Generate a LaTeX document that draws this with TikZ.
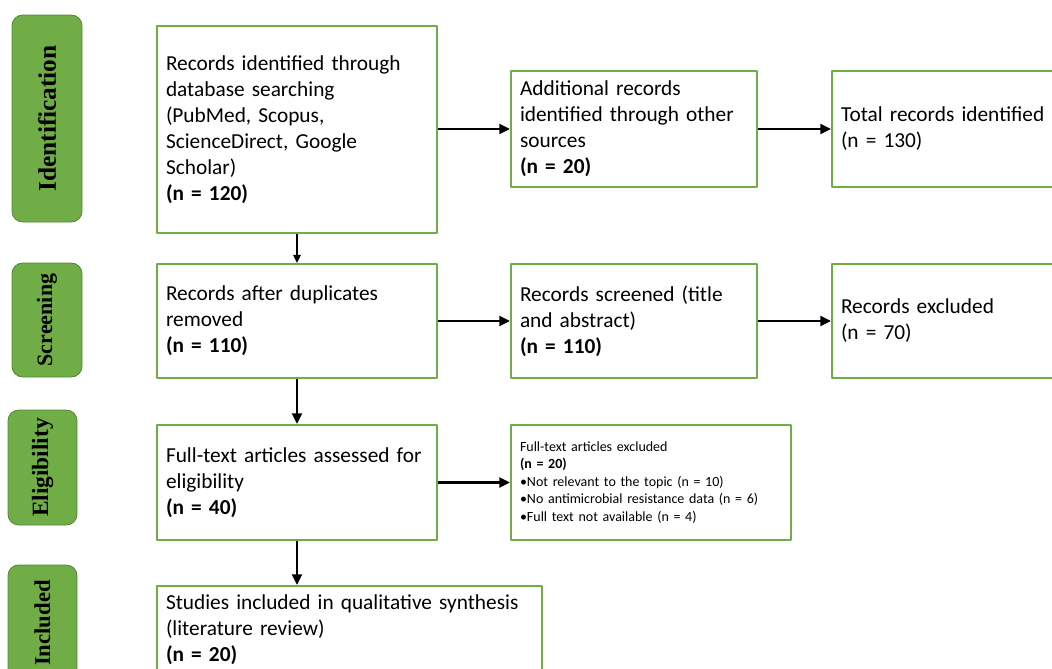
\documentclass[tikz,border=0pt]{standalone}
\usepackage{fontspec}
\setmainfont{Carlito}
\newfontfamily\phasefont{Liberation Serif}
\usetikzlibrary{arrows.meta}
\definecolor{boxgreen}{RGB}{112,173,71}
\definecolor{phasegreen}{RGB}{112,173,71}
\definecolor{phaseedge}{RGB}{84,135,52}

\begin{document}
\begin{tikzpicture}[x=0.75pt, y=-0.75pt, line join=round,
  box/.style={draw=boxgreen, line width=1.6pt, fill=white, rectangle, align=left,
    inner xsep=6.75pt, inner ysep=0pt, font=\fontsize{16}{19.5}\selectfont},
  smallbox/.style={box, font=\fontsize{10.5}{13.1}\selectfont},
  phase/.style={draw=phaseedge, line width=0.6pt, fill=phasegreen, rounded corners=8pt,
    inner sep=0pt},
  phasetext/.style={rotate=90, inner sep=0pt, font=\phasefont\bfseries\fontsize{#1}{21}\selectfont},
  flow/.style={line width=1.8pt, -{Triangle[length=8pt,width=7.5pt]}}]

\clip (0,0) rectangle (1052,668);
\useasboundingbox (0,0) rectangle (1052,668);

% phase labels
\node (identification) at (47,118.5) [phase, minimum width=52.5pt, minimum height=155.25pt] {};
\node at (identification) [phasetext=19] {Identification};
\node (screening) at (47,320) [phase, minimum width=52.5pt, minimum height=85.5pt] {};
\node at (screening) [phasetext=16.5] {Screening};
\node (eligibility) at (42.5,467.5) [phase, minimum width=51.75pt, minimum height=86.25pt] {};
\node at (eligibility) [phasetext=17.5] {Eligibility};
\node (included) at (42.5,625) [phase, minimum width=51.75pt, minimum height=90pt] {};
\node at (42.5,623) [phasetext=17] {Included};

% identification row
\node (db) at (297,129.5) [box, minimum width=210pt, minimum height=155.25pt, text width=196.5pt]
  {Records identified through\\ database searching\\ (PubMed, Scopus,\\ ScienceDirect, Google\\ Scholar)\\ \textbf{(n = 120)}};
\node (other) at (634,129) [box, minimum width=184.5pt, minimum height=87pt, text width=171pt]
  {Additional records\\ identified through other\\ sources\\ \textbf{(n = 20)}};
\node (total) at (956,129) [box, minimum width=186pt, minimum height=87pt, text width=172.5pt]
  {Total records identified\\ (n = 130)};

% screening row
\node (dupl) at (297,321) [box, minimum width=210pt, minimum height=85.5pt, text width=196.5pt]
  {Records after duplicates\\ removed\\ \textbf{(n = 110)}};
\node (screened) at (634,321) [box, minimum width=184.5pt, minimum height=85.5pt, text width=171pt]
  {Records screened (title\\ and abstract)\\ \textbf{(n = 110)}};
\node (excl) at (956,321) [box, minimum width=186pt, minimum height=85.5pt, text width=172.5pt]
  {Records excluded\\ (n = 70)};

% eligibility row
\node (fulltext) at (297,482.5) [box, minimum width=210pt, minimum height=86.25pt, text width=196.5pt]
  {Full-text articles assessed for\\ eligibility\\ \textbf{(n = 40)}};
\node (ftexcl) at (651,482.5) [smallbox, minimum width=210pt, minimum height=86.25pt, text width=196.5pt]
  {Full-text articles excluded\\ \textbf{(n = 20)}\\ •Not relevant to the topic (n = 10)\\ •No antimicrobial resistance data (n = 6)\\ •Full text not available (n = 4)};

% included
\node (studies) at (349.5,630) [box, minimum width=288.75pt, minimum height=66pt, text width=275.25pt]
  {Studies included in qualitative synthesis\\ (literature review)\\ \textbf{(n = 20)}};

\draw[flow] (db.east |- other) -- (other.west);
\draw[flow] (other.east) -- (total.west);
\draw[line width=1.2pt, -{Triangle[length=6pt,width=5.5pt]}] (db.south) -- (dupl.north);
\draw[flow] (dupl.east) -- (screened.west);
\draw[flow] (screened.east) -- (excl.west);
\draw[flow] (dupl.south) -- (fulltext.north);
\draw[flow] (fulltext.east) -- (ftexcl.west);
\draw[flow] (fulltext.south) -- (fulltext.south |- studies.north);

\end{tikzpicture}
\end{document}
